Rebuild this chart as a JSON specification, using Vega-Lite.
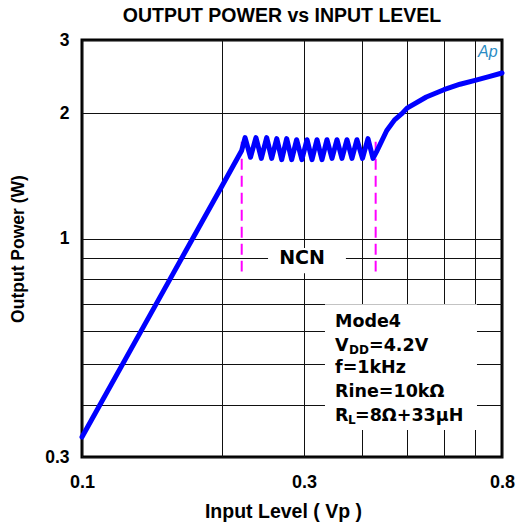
{
  "$schema": "https://vega.github.io/schema/vega-lite/v6.json",
  "width": 420,
  "height": 417,
  "autosize": {"type": "none"},
  "padding": {"left": 82, "top": 40, "right": 15, "bottom": 74},
  "background": "white",
  "config": {
    "view": {"stroke": "#000", "strokeWidth": 3},
    "font": "Liberation Sans"
  },
  "title": {
    "text": "OUTPUT POWER vs INPUT LEVEL",
    "font": "Liberation Sans",
    "fontSize": 19.5,
    "fontWeight": "bold",
    "color": "#000",
    "offset": 5,
    "dx": -10
  },
  "datasets": {
    "curve": [
      {"x": 0.1, "y": 0.335},
      {"x": 0.15, "y": 0.754},
      {"x": 0.2, "y": 1.34},
      {"x": 0.2205, "y": 1.63},
      {"x": 0.2242, "y": 1.75},
      {"x": 0.2303, "y": 1.57},
      {"x": 0.2366, "y": 1.75},
      {"x": 0.243, "y": 1.56},
      {"x": 0.2495, "y": 1.75},
      {"x": 0.2558, "y": 1.56},
      {"x": 0.2623, "y": 1.74},
      {"x": 0.2688, "y": 1.55},
      {"x": 0.2755, "y": 1.74},
      {"x": 0.2824, "y": 1.55},
      {"x": 0.2894, "y": 1.73},
      {"x": 0.297, "y": 1.55},
      {"x": 0.3047, "y": 1.73},
      {"x": 0.3123, "y": 1.55},
      {"x": 0.3201, "y": 1.73},
      {"x": 0.3281, "y": 1.55},
      {"x": 0.3363, "y": 1.73},
      {"x": 0.3448, "y": 1.56},
      {"x": 0.3534, "y": 1.73},
      {"x": 0.3622, "y": 1.56},
      {"x": 0.3713, "y": 1.73},
      {"x": 0.3806, "y": 1.56},
      {"x": 0.3901, "y": 1.73},
      {"x": 0.401, "y": 1.56},
      {"x": 0.412, "y": 1.74},
      {"x": 0.4224, "y": 1.56},
      {"x": 0.43, "y": 1.62},
      {"x": 0.4522, "y": 1.82},
      {"x": 0.47, "y": 1.93},
      {"x": 0.488, "y": 2.0},
      {"x": 0.5, "y": 2.06},
      {"x": 0.55, "y": 2.19},
      {"x": 0.6, "y": 2.28},
      {"x": 0.65, "y": 2.35},
      {"x": 0.7, "y": 2.4},
      {"x": 0.75, "y": 2.45},
      {"x": 0.8, "y": 2.5}
    ],
    "dashes": [
      {"x": 0.2205, "y": 1.71, "y2": 0.835},
      {"x": 0.428, "y": 1.71, "y2": 0.835}
    ],
    "boxes": [
      {"x": 0.2512, "x2": 0.3694, "y": 0.951, "y2": 0.828},
      {"x": 0.333, "x2": 0.7068, "y": 0.697, "y2": 0.348}
    ],
    "ncn": [{"x": 0.2972, "y": 0.9, "t": "NCN"}],
    "legend": [
      {"x": 0.35, "y": 0.616, "t": "Mode4"},
      {"x": 0.35, "y": 0.539, "t": "V"},
      {"x": 0.35, "y": 0.476, "t": "f=1kHz"},
      {"x": 0.35, "y": 0.4186, "t": "Rine=10kΩ"},
      {"x": 0.35, "y": 0.3666, "t": "R"}
    ],
    "subDD": [{"x": 0.35, "y": 0.539, "t": "DD"}],
    "restDD": [{"x": 0.35, "y": 0.539, "t": "=4.2V"}],
    "subL": [{"x": 0.35, "y": 0.3666, "t": "L"}],
    "restL": [{"x": 0.35, "y": 0.3666, "t": "=8Ω+33μH"}],
    "logo": [{"x": 0.746, "y": 2.81, "t": "Ap"}]
  },
  "encoding": {
    "x": {
      "field": "x",
      "type": "quantitative",
      "scale": {"type": "log", "domain": [0.1, 0.8], "nice": false},
      "axis": {
        "values": [0.1, 0.2, 0.3, 0.4, 0.5, 0.6, 0.7, 0.8],
        "labelExpr": "datum.value == 0.1 ? '0.1' : datum.value == 0.3 ? '0.3' : datum.value == 0.8 ? '0.8' : ''",
        "title": "Input Level ( Vp )",
        "titleFont": "Liberation Sans",
        "titleFontSize": 19.5,
        "titleFontWeight": "bold",
        "titleColor": "#000",
        "titlePadding": 11,
        "titleX": 201,
        "labelFont": "Liberation Sans",
        "labelFontSize": 18,
        "labelFontWeight": "bold",
        "labelColor": "#000",
        "labelPadding": 16,
        "labelFlush": false,
        "labelOverlap": false,
        "domain": false,
        "ticks": false,
        "grid": true,
        "gridColor": "#111",
        "gridWidth": 1,
        "gridOpacity": 1
      }
    },
    "y": {
      "field": "y",
      "type": "quantitative",
      "scale": {"type": "log", "domain": [0.3, 3], "nice": false},
      "axis": {
        "values": [0.3, 0.4, 0.5, 0.6, 0.7, 0.8, 0.9, 1, 2, 3],
        "labelExpr": "datum.value == 0.3 ? '0.3' : datum.value == 1 ? '1' : datum.value == 2 ? '2' : datum.value == 3 ? '3' : ''",
        "title": "Output Power (W)",
        "titleFont": "Liberation Sans",
        "titleFontSize": 17.5,
        "titleFontWeight": "bold",
        "titleColor": "#000",
        "titlePadding": 17,
        "labelFont": "Liberation Sans",
        "labelFontSize": 17.5,
        "labelFontWeight": "bold",
        "labelColor": "#000",
        "labelPadding": 13,
        "labelFlush": false,
        "labelOverlap": false,
        "domain": false,
        "ticks": false,
        "grid": true,
        "gridColor": "#111",
        "gridWidth": 1,
        "gridOpacity": 1
      }
    }
  },
  "layer": [
    {
      "data": {"name": "boxes"},
      "mark": {"type": "rect", "fill": "white", "stroke": null},
      "encoding": {"x2": {"field": "x2"}, "y2": {"field": "y2"}}
    },
    {
      "data": {"name": "dashes"},
      "mark": {"type": "rule", "color": "#ff00ff", "strokeWidth": 2, "strokeDash": [11, 6]},
      "encoding": {"y2": {"field": "y2"}}
    },
    {
      "data": {"name": "curve"},
      "mark": {"type": "line", "color": "#0000ff", "strokeWidth": 5, "strokeCap": "round", "strokeJoin": "round"},
      "encoding": {}
    },
    {
      "data": {"name": "ncn"},
      "mark": {"type": "text", "font": "DejaVu Sans", "fontWeight": "bold", "fontSize": 19, "align": "center", "baseline": "middle", "color": "#000"},
      "encoding": {"text": {"field": "t"}}
    },
    {
      "data": {"name": "legend"},
      "mark": {"type": "text", "font": "DejaVu Sans", "fontWeight": "bold", "fontSize": 17.5, "align": "left", "baseline": "alphabetic", "color": "#000"},
      "encoding": {"text": {"field": "t"}}
    },
    {
      "data": {"name": "subDD"},
      "mark": {"type": "text", "font": "DejaVu Sans", "fontWeight": "bold", "fontSize": 12, "align": "left", "baseline": "alphabetic", "dx": 14, "dy": 3, "color": "#000"},
      "encoding": {"text": {"field": "t"}}
    },
    {
      "data": {"name": "restDD"},
      "mark": {"type": "text", "font": "DejaVu Sans", "fontWeight": "bold", "fontSize": 17.5, "align": "left", "baseline": "alphabetic", "dx": 34, "color": "#000"},
      "encoding": {"text": {"field": "t"}}
    },
    {
      "data": {"name": "subL"},
      "mark": {"type": "text", "font": "DejaVu Sans", "fontWeight": "bold", "fontSize": 12, "align": "left", "baseline": "alphabetic", "dx": 13, "dy": 3, "color": "#000"},
      "encoding": {"text": {"field": "t"}}
    },
    {
      "data": {"name": "restL"},
      "mark": {"type": "text", "font": "DejaVu Sans", "fontWeight": "bold", "fontSize": 17.5, "align": "left", "baseline": "alphabetic", "dx": 20, "color": "#000"},
      "encoding": {"text": {"field": "t"}}
    },
    {
      "data": {"name": "logo"},
      "mark": {"type": "text", "font": "Liberation Sans", "fontStyle": "italic", "fontSize": 16, "align": "center", "baseline": "middle", "color": "#2a8cc4"},
      "encoding": {"text": {"field": "t"}}
    }
  ]
}
